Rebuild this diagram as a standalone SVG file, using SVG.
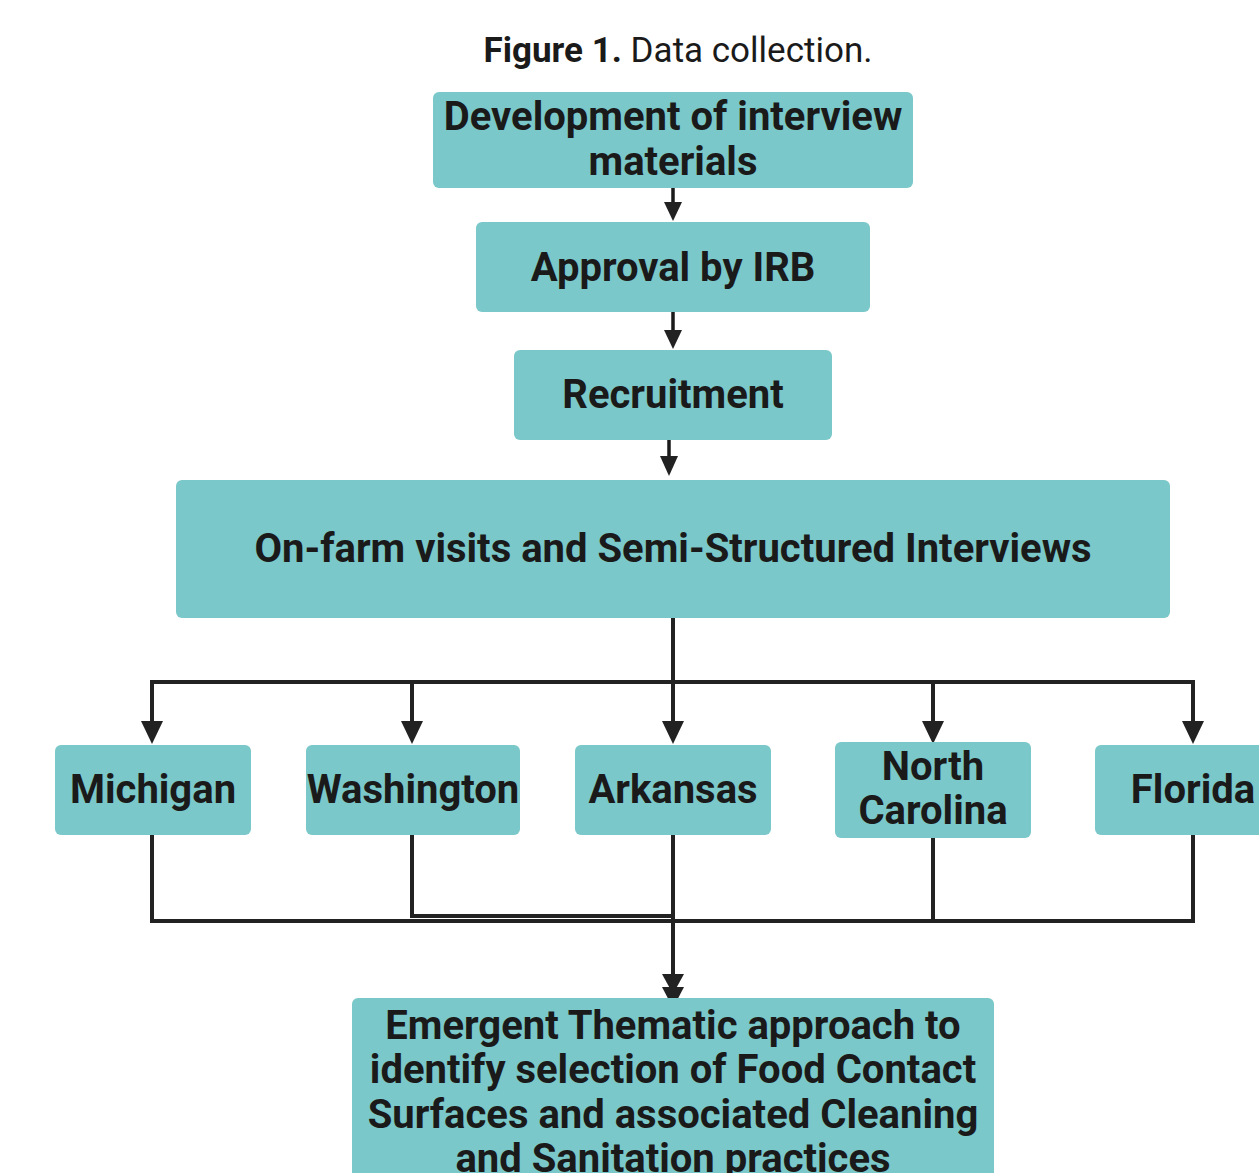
<svg xmlns="http://www.w3.org/2000/svg" width="1259" height="1173" viewBox="0 0 1259 1173">
<style>
.box{fill:#7ac8c9;}
.t{font-family:Roboto,"Liberation Sans",sans-serif;font-weight:700;font-size:40px;fill:#1a1a1a;text-anchor:middle;}
.ln{fill:none;stroke:#222;stroke-width:4;stroke-linejoin:miter;}
.ln3{fill:none;stroke:#1a1a1a;stroke-width:3.5;}
.ah{fill:#222;}
</style>
<rect width="1259" height="1173" fill="#fff"/>
<text x="678" y="62" font-family="Roboto,'Liberation Sans',sans-serif" font-size="35" fill="#1a1a1a" text-anchor="middle"><tspan font-weight="700">Figure 1.</tspan> Data collection.</text>

<g id="connectors">
  <path class="ln3" d="M673,188 V204"/>
  <polygon class="ah" points="664,202 682,202 673,221"/>
  <path class="ln3" d="M673,312 V332"/>
  <polygon class="ah" points="664,330 682,330 673,349"/>
  <path class="ln3" d="M669,440 V458"/>
  <polygon class="ah" points="660,456 678,456 669,476"/>
  <path class="ln" d="M673,618 V724"/>
  <path class="ln" d="M152,724 V682 H1193 V724"/>
  <path class="ln" d="M412,682 V724"/>
  <path class="ln" d="M933,682 V724"/>
  <polygon class="ah" points="141,721 163,721 152,744"/>
  <polygon class="ah" points="401,721 423,721 412,744"/>
  <polygon class="ah" points="662,721 684,721 673,744"/>
  <polygon class="ah" points="922,721 944,721 933,744"/>
  <polygon class="ah" points="1182,721 1204,721 1193,744"/>
  <path class="ln" d="M152,835 V921 H1193 V835"/>
  <path class="ln" d="M933,838 V921"/>
  <path class="ln" d="M412,835 V916 H672"/>
  <path class="ln" d="M673,835 V990"/>
  <polygon class="ah" points="662,974 684,974 673,994"/>
  <polygon class="ah" points="662,987 684,987 673,1008"/>
</g>

<g id="n1"><rect class="box" x="433" y="92" width="480" height="96" rx="6"/><text class="t" x="673" y="130">Development of interview</text><text class="t" x="673" y="175">materials</text></g>
<g id="n2"><rect class="box" x="476" y="222" width="394" height="90" rx="6"/><text class="t" x="673" y="281">Approval by IRB</text></g>
<g id="n3"><rect class="box" x="514" y="350" width="318" height="90" rx="6"/><text class="t" x="673" y="408">Recruitment</text></g>
<g id="n4"><rect class="box" x="176" y="480" width="994" height="138" rx="6"/><text class="t" x="673" y="562">On-farm visits and Semi-Structured Interviews</text></g>
<g id="michigan"><rect class="box" x="55" y="745" width="196" height="90" rx="6"/><text class="t" x="153" y="803">Michigan</text></g>
<g id="washington"><rect class="box" x="306" y="745" width="214" height="90" rx="6"/><text class="t" x="413" y="803">Washington</text></g>
<g id="arkansas"><rect class="box" x="575" y="745" width="196" height="90" rx="6"/><text class="t" x="673" y="803">Arkansas</text></g>
<g id="northcarolina"><rect class="box" x="835" y="742" width="196" height="96" rx="6"/><text class="t" x="933" y="780">North</text><text class="t" x="933" y="824">Carolina</text></g>
<g id="florida"><rect class="box" x="1095" y="745" width="180" height="90" rx="6"/><text class="t" x="1193" y="803">Florida</text></g>
<g id="n5"><rect class="box" x="352" y="998" width="642" height="190" rx="6"/>
<text class="t" x="673" y="1039">Emergent Thematic approach to</text>
<text class="t" x="673" y="1083">identify selection of Food Contact</text>
<text class="t" x="673" y="1128">Surfaces and associated Cleaning</text>
<text class="t" x="673" y="1172">and Sanitation practices</text></g>
</svg>
